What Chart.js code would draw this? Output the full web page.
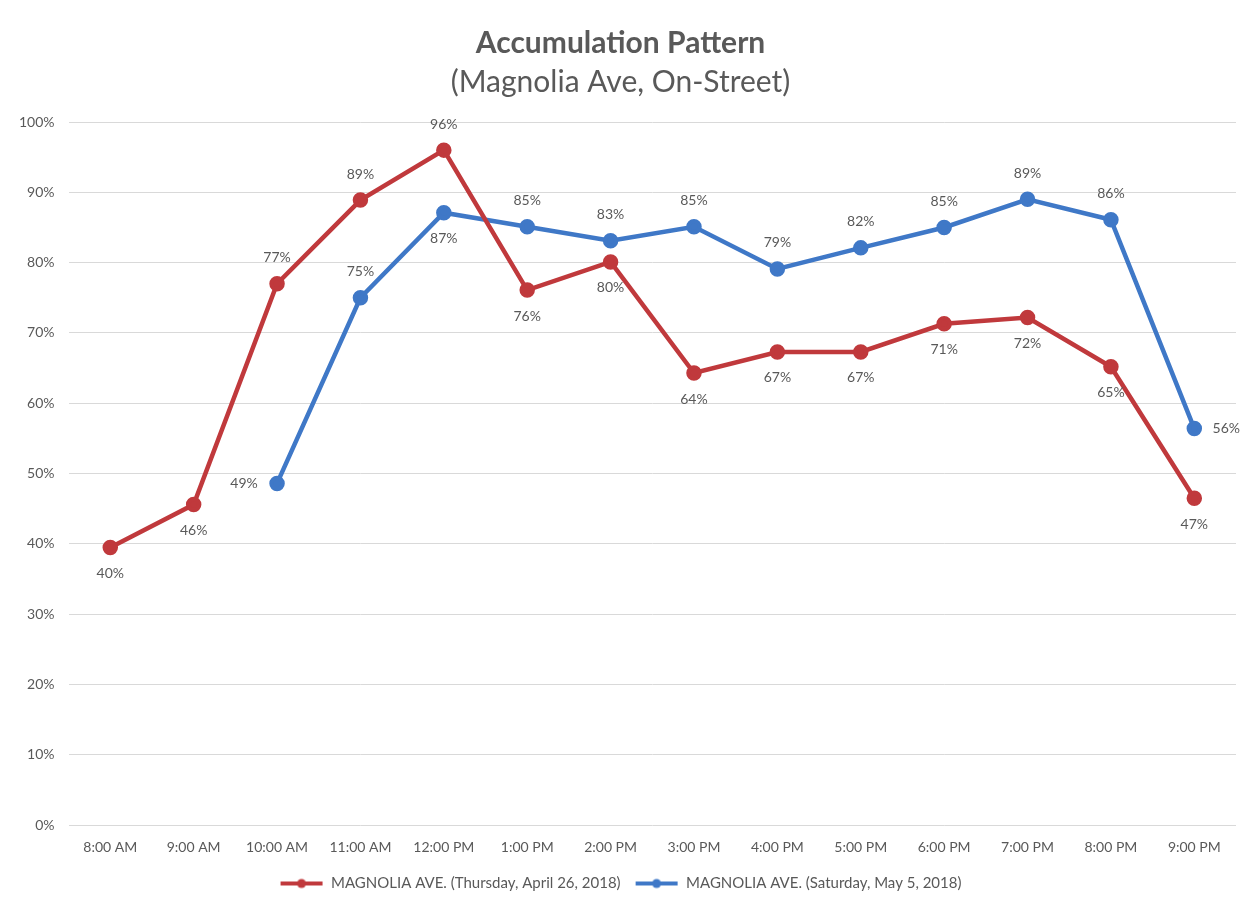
<!DOCTYPE html>
<html>
<head>
<meta charset="utf-8">
<script src="https://cdn.jsdelivr.net/npm/chart.js@4"></script>
<style>
  html, body { margin: 0; padding: 0; background: #ffffff; }
  #wrap { width: 1249px; height: 907px; }
</style>
</head>
<body>
<div id="wrap"><canvas id="c" width="1249" height="907"></canvas></div>
<script>
const categories = ['8:00 AM','9:00 AM','10:00 AM','11:00 AM','12:00 PM','1:00 PM','2:00 PM','3:00 PM','4:00 PM','5:00 PM','6:00 PM','7:00 PM','8:00 PM','9:00 PM'];
const thursdayValues = [39.5, 45.6, 77.0, 88.9, 96.0, 76.1, 80.1, 64.3, 67.3, 67.3, 71.3, 72.2, 65.2, 46.5];
const saturdayValues = [null, null, 48.6, 75.0, 87.1, 85.1, 83.1, 85.1, 79.1, 82.1, 85.0, 89.0, 86.1, 56.4];
const thursdayLabelSide = ['below','below','above','above','above','below','below','below','below','below','below','below','below','below'];
const saturdayLabelSide = ['', '', 'left','above','below','above','above','above','above','above','above','above','above','right'];
const seriesNames = ['MAGNOLIA AVE. (Thursday, April 26, 2018)', 'MAGNOLIA AVE. (Saturday, May 5, 2018)'];
const yTicks = [0,10,20,30,40,50,60,70,80,90,100];

const RED = '#C0393C';
const BLUE = '#3F78C7';
const TEXT = '#595959';
const FONT = 'Lato, "Open Sans", sans-serif';

function legendIcon(color) {
  const cv = document.createElement('canvas');
  cv.width = 44; cv.height = 12;
  const g = cv.getContext('2d');
  g.strokeStyle = color; g.lineWidth = 4;
  g.beginPath(); g.moveTo(1, 6); g.lineTo(43, 6); g.stroke();
  g.fillStyle = color;
  g.beginPath(); g.arc(22, 6, 4.5, 0, Math.PI * 2); g.fill();
  return cv;
}

const sides = [thursdayLabelSide, saturdayLabelSide];

const dataLabelPlugin = {
  id: 'dataLabels',
  afterDatasetsDraw(chart) {
    const ctx = chart.ctx;
    ctx.save();
    ctx.font = '14px ' + FONT;
    ctx.fillStyle = TEXT;
    ctx.textAlign = 'center';
    ctx.textBaseline = 'middle';
    chart.data.datasets.forEach((ds, di) => {
      const meta = chart.getDatasetMeta(di);
      meta.data.forEach((pt, i) => {
        const v = ds.data[i];
        if (v === null || v === undefined) return;
        const side = sides[di][i];
        let x = pt.x, y = pt.y;
        if (side === 'above') y -= 26;
        else if (side === 'below') y += 26;
        else if (side === 'left') x -= 33;
        else if (side === 'right') x += 32;
        ctx.fillText(Math.round(v) + '%', x, y);
      });
    });
    ctx.restore();
  }
};

new Chart(document.getElementById('c'), {
  type: 'line',
  data: {
    labels: categories,
    datasets: [
      {
        label: seriesNames[0],
        data: thursdayValues,
        borderColor: RED,
        backgroundColor: RED,
        borderWidth: 4.5,
        pointRadius: 5.5,
        pointBackgroundColor: RED,
        pointBorderColor: RED,
        tension: 0,
        fill: false
      },
      {
        label: seriesNames[1],
        data: saturdayValues,
        borderColor: BLUE,
        backgroundColor: BLUE,
        borderWidth: 4.5,
        pointRadius: 5.5,
        pointBackgroundColor: BLUE,
        pointBorderColor: BLUE,
        tension: 0,
        fill: false,
        spanGaps: false
      }
    ]
  },
  options: {
    responsive: false,
    animation: false,
    layout: { padding: { left: 5, right: 13, top: 8, bottom: 6 } },
    plugins: {
      title: {
        display: true,
        text: 'Accumulation Pattern',
        color: TEXT,
        font: { family: FONT, size: 30, weight: 'bold' },
        padding: { top: 17, bottom: 3 }
      },
      subtitle: {
        display: true,
        text: '(Magnolia Ave, On-Street)',
        color: TEXT,
        font: { family: FONT, size: 30, weight: 'normal' },
        padding: { top: 0, bottom: 22 }
      },
      legend: {
        position: 'bottom',
        labels: {
          color: TEXT,
          font: { family: FONT, size: 15 },
          usePointStyle: true,
          pointStyleWidth: 44,
          padding: 14,
          generateLabels(chart) {
            return chart.data.datasets.map((ds, i) => ({
              text: ds.label,
              fillStyle: ds.borderColor,
              strokeStyle: ds.borderColor,
              lineWidth: 0,
              pointStyle: legendIcon(ds.borderColor),
              hidden: false,
              datasetIndex: i,
              fontColor: TEXT
            }));
          }
        }
      },
      tooltip: { enabled: false }
    },
    scales: {
      x: {
        offset: true,
        grid: { display: false },
        border: { display: false },
        ticks: { color: TEXT, font: { family: FONT, size: 14 }, maxRotation: 0, padding: 6 }
      },
      y: {
        min: 0,
        max: 100,
        afterBuildTicks(axis) { axis.ticks = yTicks.map(v => ({ value: v })); },
        grid: { color: '#D9D9D9', lineWidth: 1, drawTicks: false },
        border: { display: false },
        ticks: {
          color: TEXT,
          font: { family: FONT, size: 14 },
          padding: 14,
          callback: v => v + '%'
        }
      }
    }
  },
  plugins: [dataLabelPlugin]
});
</script>
</body>
</html>
